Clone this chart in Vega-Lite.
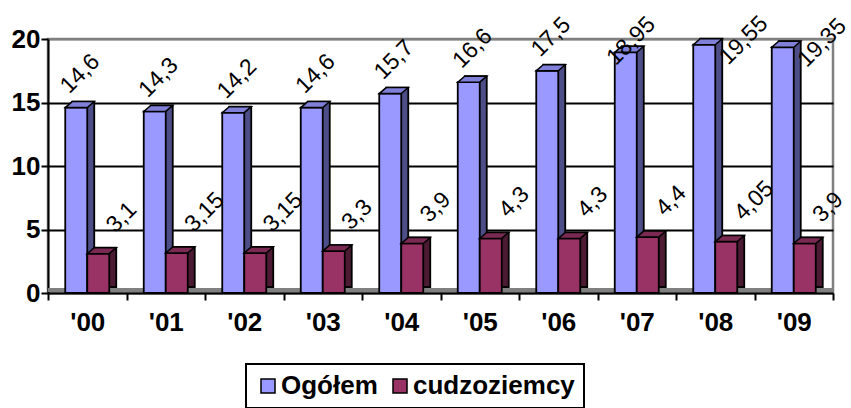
{
  "$schema": "https://vega.github.io/schema/vega-lite/v6.json",
  "width": 785,
  "height": 254,
  "autosize": {"type": "none"},
  "padding": {"left": 48, "top": 39, "right": 18, "bottom": 115},
  "background": "white",
  "config": {
    "locale": {"number": {"decimal": ",", "thousands": "\u00a0", "grouping": [3], "currency": ["", " zł"]}},
    "view": {"stroke": "#808080", "strokeWidth": 2.5},
    "font": "Liberation Sans",
    "legend": {"strokeColor": "black", "strokeWidth": 2, "fillColor": "white", "symbolStrokeColor": "black", "symbolStrokeWidth": 1.5}
  },
  "data": {
    "values": [
      {"rok": "'00", "seria": "Ogółem", "wartosc": 14.6},
      {"rok": "'01", "seria": "Ogółem", "wartosc": 14.3},
      {"rok": "'02", "seria": "Ogółem", "wartosc": 14.2},
      {"rok": "'03", "seria": "Ogółem", "wartosc": 14.6},
      {"rok": "'04", "seria": "Ogółem", "wartosc": 15.7},
      {"rok": "'05", "seria": "Ogółem", "wartosc": 16.6},
      {"rok": "'06", "seria": "Ogółem", "wartosc": 17.5},
      {"rok": "'07", "seria": "Ogółem", "wartosc": 18.95},
      {"rok": "'08", "seria": "Ogółem", "wartosc": 19.55},
      {"rok": "'09", "seria": "Ogółem", "wartosc": 19.35},
      {"rok": "'00", "seria": "cudzoziemcy", "wartosc": 3.1},
      {"rok": "'01", "seria": "cudzoziemcy", "wartosc": 3.15},
      {"rok": "'02", "seria": "cudzoziemcy", "wartosc": 3.15},
      {"rok": "'03", "seria": "cudzoziemcy", "wartosc": 3.3},
      {"rok": "'04", "seria": "cudzoziemcy", "wartosc": 3.9},
      {"rok": "'05", "seria": "cudzoziemcy", "wartosc": 4.3},
      {"rok": "'06", "seria": "cudzoziemcy", "wartosc": 4.3},
      {"rok": "'07", "seria": "cudzoziemcy", "wartosc": 4.4},
      {"rok": "'08", "seria": "cudzoziemcy", "wartosc": 4.05},
      {"rok": "'09", "seria": "cudzoziemcy", "wartosc": 3.9}
    ]
  },
  "layer": [
    {
      "transform": [{"filter": "datum.seria === 'Ogółem'"}],
      "mark": {"type": "bar", "width": 22, "xOffset": -4, "yOffset": -6, "y2Offset": -6, "fill": "#4D4D88", "stroke": "black", "strokeWidth": 1.8},
      "encoding": {
        "x": {
          "field": "rok", "type": "nominal", "sort": null,
          "scale": {"paddingInner": 0, "paddingOuter": 0},
          "axis": {
            "title": null, "labelAngle": 0, "domainColor": "black", "domainWidth": 2,
            "tickColor": "black", "tickWidth": 2, "tickSize": 7, "tickBand": "extent",
            "labelFont": "Liberation Sans", "labelFontSize": 26, "labelFontWeight": "bold",
            "labelColor": "black", "labelPadding": 9
          }
        },
        "y": {
          "field": "wartosc", "type": "quantitative",
          "scale": {"domain": [0, 20]},
          "axis": {
            "title": null, "values": [0, 5, 10, 15, 20], "domainColor": "black", "domainWidth": 2,
            "tickColor": "black", "tickWidth": 2, "tickSize": 7,
            "labelFont": "Liberation Sans", "labelFontSize": 26, "labelFontWeight": "bold",
            "labelColor": "black", "labelPadding": 1,
            "grid": true, "gridWidth": 2, "gridOpacity": 1,
            "gridColor": {"condition": {"test": "datum.value === 20 || datum.value === 0", "value": "#808080"}, "value": "black"}
          }
        }
      }
    },
    {
      "mark": {"type": "rule", "color": "#808080", "strokeWidth": 4, "yOffset": -3},
      "encoding": {"y": {"datum": 0, "type": "quantitative"}}
    },
    {
      "transform": [{"filter": "datum.seria === 'Ogółem'"}],
      "mark": {"type": "bar", "width": 22, "xOffset": -11, "stroke": "black", "strokeWidth": 1.8, "opacity": 1},
      "encoding": {
        "x": {"field": "rok", "type": "nominal", "sort": null},
        "y": {"field": "wartosc", "type": "quantitative"},
        "color": {
          "field": "seria", "type": "nominal",
          "scale": {"domain": ["Ogółem", "cudzoziemcy"], "range": ["#9999FF", "#993366"]},
          "legend": {
            "title": null, "orient": "none", "legendX": 198, "legendY": 325, "direction": "horizontal",
            "symbolType": "square", "symbolSize": 196, "symbolStrokeColor": "black", "symbolStrokeWidth": 1.5,
            "symbolOpacity": 1, "labelFont": "Liberation Sans", "labelFontSize": 26, "labelFontWeight": "bold",
            "labelColor": "black", "labelOffset": 0, "columnPadding": 9, "labelLimit": 400,
            "strokeColor": "black", "padding": 9, "fillColor": "white"
          }
        }
      }
    },
    {
      "transform": [{"filter": "datum.seria === 'Ogółem'"}],
      "mark": {"type": "point", "shape": "M-0.967,0.2L0.5,0.2L0.967,-0.2L-0.5,-0.2Z", "size": 900, "filled": true, "fill": "#8080D8", "stroke": "black", "strokeWidth": 1.5, "opacity": 1, "xOffset": -7.5, "yOffset": -3},
      "encoding": {
        "x": {"field": "rok", "type": "nominal", "sort": null},
        "y": {"field": "wartosc", "type": "quantitative"}
      }
    },
    {
      "transform": [{"filter": "datum.seria === 'cudzoziemcy'"}],
      "mark": {"type": "bar", "width": 22, "xOffset": 18, "yOffset": -6, "y2Offset": -6, "fill": "#4D1A33", "stroke": "black", "strokeWidth": 1.8},
      "encoding": {
        "x": {"field": "rok", "type": "nominal", "sort": null},
        "y": {"field": "wartosc", "type": "quantitative"}
      }
    },
    {
      "transform": [{"filter": "datum.seria === 'cudzoziemcy'"}],
      "mark": {"type": "bar", "width": 22, "xOffset": 11, "stroke": "black", "strokeWidth": 1.8, "opacity": 1},
      "encoding": {
        "x": {"field": "rok", "type": "nominal", "sort": null},
        "y": {"field": "wartosc", "type": "quantitative"},
        "color": {"field": "seria", "type": "nominal"}
      }
    },
    {
      "transform": [{"filter": "datum.seria === 'cudzoziemcy'"}],
      "mark": {"type": "point", "shape": "M-0.967,0.2L0.5,0.2L0.967,-0.2L-0.5,-0.2Z", "size": 900, "filled": true, "fill": "#7A2952", "stroke": "black", "strokeWidth": 1.5, "opacity": 1, "xOffset": 14.5, "yOffset": -3},
      "encoding": {
        "x": {"field": "rok", "type": "nominal", "sort": null},
        "y": {"field": "wartosc", "type": "quantitative"}
      }
    },
    {
      "transform": [{"filter": "datum.seria === 'Ogółem'"}],
      "mark": {"type": "text", "angle": 315, "align": "left", "baseline": "alphabetic", "fontSize": 23, "font": "Liberation Sans", "color": "black",
        "xOffset": {"expr": "datum.wartosc > 19 ? 13 : (datum.wartosc > 18 ? -21 : -18)"},
        "yOffset": {"expr": "datum.wartosc > 19 ? 21 : (datum.wartosc > 18 ? 14 : -13)"}},
      "encoding": {
        "x": {"field": "rok", "type": "nominal", "sort": null},
        "y": {"field": "wartosc", "type": "quantitative"},
        "text": {"field": "wartosc", "type": "quantitative", "format": "~r"}
      }
    },
    {
      "transform": [{"filter": "datum.seria === 'cudzoziemcy'"}],
      "mark": {"type": "text", "angle": 315, "align": "left", "baseline": "alphabetic", "fontSize": 23, "font": "Liberation Sans", "color": "black", "xOffset": 28, "yOffset": -20},
      "encoding": {
        "x": {"field": "rok", "type": "nominal", "sort": null},
        "y": {"field": "wartosc", "type": "quantitative"},
        "text": {"field": "wartosc", "type": "quantitative", "format": "~r"}
      }
    }
  ]
}
